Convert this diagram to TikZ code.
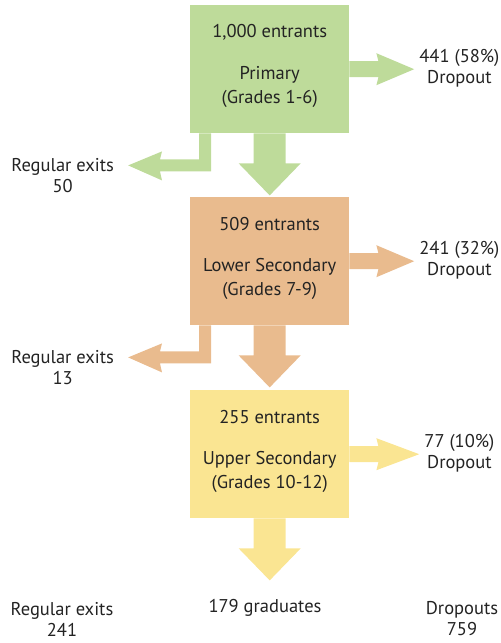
\documentclass[tikz,border=0pt]{standalone}
\usepackage{fontspec}
\setmainfont{PT Sans}
\usetikzlibrary{calc}
\definecolor{cgreen}{RGB}{190,219,154}
\definecolor{corange}{RGB}{233,187,142}
\definecolor{cyellow}{RGB}{250,229,146}
\definecolor{ink}{RGB}{35,35,35}
\newcommand{\flowdown}[2]{%
  \fill[#2] ($(#1.south)+(-16,0)$) -- ($(#1.south)+(-16,30)$) -- ($(#1.south)+(-31,30)$)
    -- ($(#1.south)+(0,62)$) -- ($(#1.south)+(31,30)$) -- ($(#1.south)+(16,30)$)
    -- ($(#1.south)+(16,0)$) -- cycle;}
\newcommand{\flowright}[3]{%
  \fill[#3] ($(#1.east)+(0,-8)$) -- ($(#1.east)+(29,-8)$) -- ($(#1.east)+(27,-16)$)
    -- ($(#2.west)+(-5,1)$) -- ($(#1.east)+(27,16)$) -- ($(#1.east)+(29,8)$)
    -- ($(#1.east)+(0,8)$) -- cycle;}
\newcommand{\flowleft}[3]{%
  \fill[#3] ($(#1.south west)+(9,0)$) -- ($(#1.south west)+(21,0)$) -- ($(#1.south west)+(21,38)$)
    -- ($(#1.south west)+(-30,38)$) -- ($(#1.south west)+(-28,47)$)
    -- ($(#2.east)+(14,-10)$) -- ($(#1.south west)+(-28,18)$) -- ($(#1.south west)+(-30,26)$)
    -- ($(#1.south west)+(9,26)$) -- cycle;}
\begin{document}
\begin{tikzpicture}[x=1pt,y=-1pt,
  stage/.style={minimum width=159pt,minimum height=128pt,inner sep=0pt,anchor=north west},
  lbl/.style={text=ink,font=\fontsize{18.5}{21}\selectfont,inner sep=0pt,align=center},
  inbox/.style={text=ink,font=\fontsize{18.5}{24}\selectfont,inner sep=0pt,align=center}]
\useasboundingbox (0,0) rectangle (501,643);
% stages
\node[stage,fill=cgreen] (g) at (190,5) {};
\node[stage,fill=corange] (o) at (190,197) {};
\node[stage,fill=cyellow] (y) at (190,390) {};
% texts inside
\node[inbox] (gt) at ($(g.north)+(0,27)$) {1,000 entrants};
\node[inbox] (gn) at ($(g.north)+(0,82)$) {Primary\\(Grades 1-6)};
\node[inbox] (ot) at ($(o.north)+(0,27)$) {509 entrants};
\node[inbox] (on) at ($(o.north)+(0,82)$) {Lower Secondary\\(Grades 7-9)};
\node[inbox] (yt) at ($(y.north)+(0,27)$) {255 entrants};
\node[inbox] (yn) at ($(y.north)+(0,82)$) {Upper Secondary\\(Grades 10-12)};
% dropout labels
\node[lbl] (gd) at ($(g.east)+(110,-1)$) {441 (58\%)\\Dropout};
\node[lbl] (od) at ($(o.east)+(110,-1)$) {241 (32\%)\\Dropout};
\node[lbl] (yd) at ($(y.east)+(110,-1)$) {77 (10\%)\\Dropout};
% regular exit labels
\node[lbl] (gr) at ($(g.south)+(-207,42)$) {Regular exits\\50};
\node[lbl] (or) at ($(o.south)+(-207,42)$) {Regular exits\\13};
% bottom summary
\node[lbl] (br) at (62,619) {Regular exits\\241};
\node[lbl] (bg) at (265,608) {179 graduates};
\node[lbl] (bd) at (462,619) {Dropouts\\759};
% arrows
\flowdown{g}{cgreen}
\flowdown{o}{corange}
\flowdown{y}{cyellow}
\flowright{g}{gd}{cgreen}
\flowright{o}{od}{corange}
\flowright{y}{yd}{cyellow}
\flowleft{g}{gr}{cgreen}
\flowleft{o}{or}{corange}
\end{tikzpicture}
\end{document}
